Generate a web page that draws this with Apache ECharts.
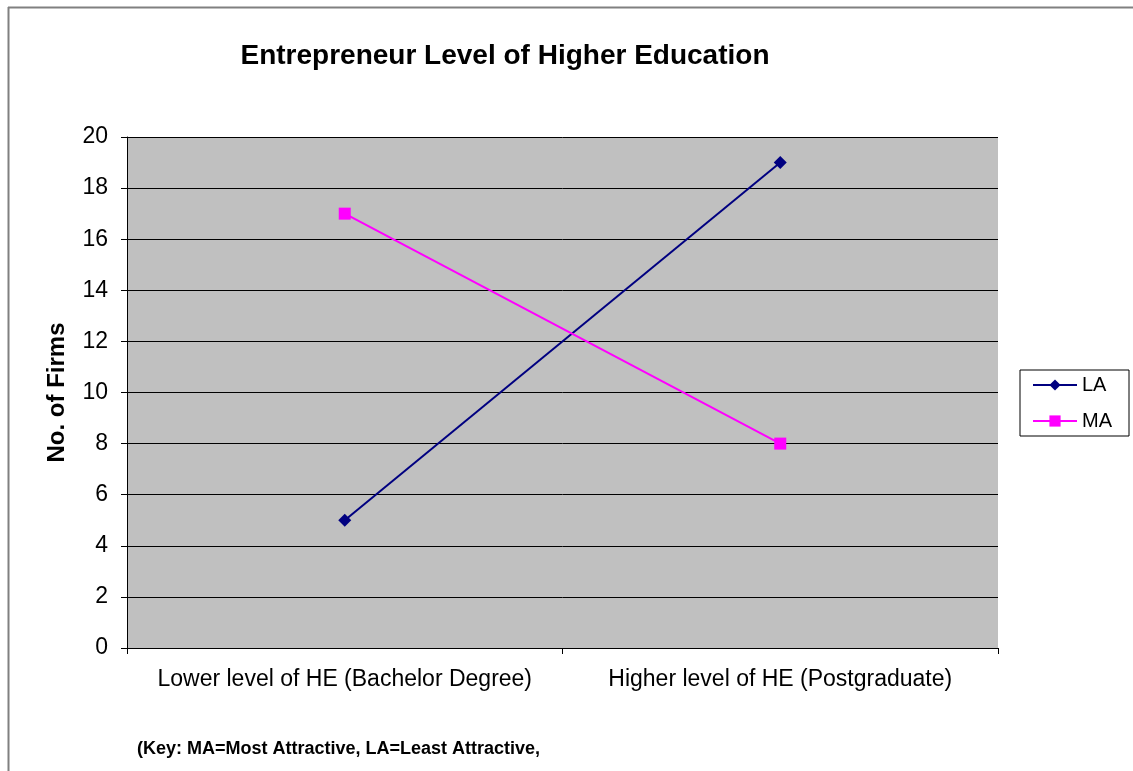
<!DOCTYPE html>
<html>
<head>
<meta charset="utf-8">
<script src="https://cdn.jsdelivr.net/npm/echarts@6/dist/echarts.min.js"></script>
<style>
html,body{margin:0;padding:0;background:#fff;}
#chart{width:1133px;height:771px;}
</style>
</head>
<body>
<div id="chart"></div>
<script>
var categories = ['Lower level of HE (Bachelor Degree)', 'Higher level of HE (Postgraduate)'];
var seriesLA = [5, 19];
var seriesMA = [17, 8];
var yTicks = [0, 2, 4, 6, 8, 10, 12, 14, 16, 18, 20];

var font = '"Liberation Sans", Arial, sans-serif';
var chart = echarts.init(document.getElementById('chart'), null, {renderer: 'canvas'});
chart.setOption({
  backgroundColor: '#ffffff',
  animation: false,
  title: {
    text: 'Entrepreneur Level of Higher Education',
    left: 500, top: 37, textAlign: 'center',
    textStyle: {fontFamily: font, fontSize: 28, fontWeight: 'bold', color: '#000'}
  },
  legend: {
    orient: 'vertical',
    left: 1020, top: 370,
    backgroundColor: '#fff',
    borderColor: '#000', borderWidth: 1,
    borderRadius: 0,
    padding: [5, 17, 5, 12],
    itemWidth: 44, itemHeight: 14, itemGap: 16,
    textStyle: {fontFamily: font, fontSize: 20, color: '#000'},
    data: ['LA', 'MA']
  },
  grid: {left: 127, right: 135, top: 137, bottom: 123, show: true, backgroundColor: '#c0c0c0', borderWidth: 0},
  xAxis: {
    type: 'category',
    data: categories,
    boundaryGap: true,
    axisLine: {lineStyle: {color: '#000', width: 1}},
    axisTick: {show: true, length: 6, interval: 0, lineStyle: {color: '#000'}},
    axisLabel: {fontFamily: font, fontSize: 23, color: '#000', margin: 20, interval: 0, hideOverlap: false}
  },
  yAxis: {
    type: 'value',
    min: 0, max: 20, interval: 2,
    name: 'No. of Firms',
    nameLocation: 'middle',
    nameGap: 58,
    nameRotate: 90,
    nameTextStyle: {fontFamily: font, fontSize: 24, fontWeight: 'bold', color: '#000'},
    axisLine: {show: true, lineStyle: {color: '#000', width: 1}},
    axisTick: {show: true, length: 6, lineStyle: {color: '#000'}},
    axisLabel: {fontFamily: font, fontSize: 23, color: '#000', margin: 19,
      formatter: function(v){ return yTicks.indexOf(v) >= 0 ? String(v) : ''; }},
    splitLine: {show: true, lineStyle: {color: '#000', width: 1}}
  },
  series: [
    {
      name: 'LA', type: 'line', data: seriesLA,
      symbol: 'diamond', symbolSize: 13,
      lineStyle: {color: '#000080', width: 2},
      itemStyle: {color: '#000080'}
    },
    {
      name: 'MA', type: 'line', data: seriesMA,
      symbol: 'rect', symbolSize: 12,
      lineStyle: {color: '#ff00ff', width: 2},
      itemStyle: {color: '#ff00ff'}
    }
  ],
  graphic: [
    {type: 'line', shape: {x1: 8, y1: 7.5, x2: 1133, y2: 7.5}, style: {stroke: '#808080', lineWidth: 2}},
    {type: 'line', shape: {x1: 8.5, y1: 7, x2: 8.5, y2: 771}, style: {stroke: '#808080', lineWidth: 2}},
    {type: 'text', left: 137, top: 740,
      style: {text: '(Key: MA=Most Attractive, LA=Least Attractive,', fontFamily: font, fontSize: 18, fontWeight: 'bold', fill: '#000'}}
  ]
});
</script>
</body>
</html>
